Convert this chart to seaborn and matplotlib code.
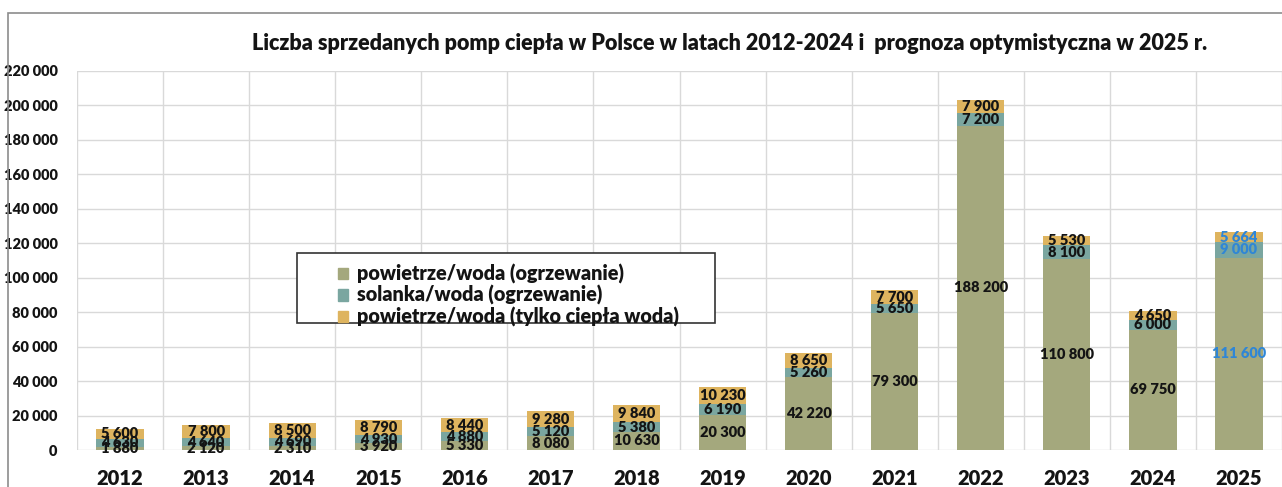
import matplotlib
matplotlib.use('Agg')
import matplotlib.pyplot as plt
import matplotlib.patches as mpatches
from matplotlib.ticker import FuncFormatter, MultipleLocator
import seaborn as sns
import pandas as pd
import numpy as np

# ── Data ────────────────────────────────────────────────
years = ['2012', '2013', '2014', '2015', '2016', '2017', '2018',
         '2019', '2020', '2021', '2022', '2023', '2024', '2025']
air_heating = [1880, 2120, 2310, 3920, 5330, 8080, 10630,
               20300, 42220, 79300, 188200, 110800, 69750, 111600]
brine_heating = [4630, 4640, 4690, 4930, 4880, 5120, 5380,
                 6190, 5260, 5650, 7200, 8100, 6000, 9000]
air_hot_water = [5600, 7800, 8500, 8790, 8440, 9280, 9840,
                 10230, 8650, 7700, 7900, 5530, 4650, 5664]
series_names = ['powietrze/woda (ogrzewanie)',
                'solanka/woda (ogrzewanie)',
                'powietrze/woda (tylko ciepła woda)']

TITLE = ('Liczba sprzedanych pomp ciepła w Polsce w latach 2012-2024 i  '
         'prognoza optymistyczna w 2025 r.')

# ── Style ───────────────────────────────────────────────
OLIVE = '#a4a87d'
TEAL = '#7aa6a0'
GOLD = '#deb45f'
GRID = '#d9d9d9'
FORECAST = '#2f86d6'
INK = '#141414'
W, H = 1282, 487

sns.set_theme(style='white')
plt.rcParams['font.family'] = ['Lato', 'DejaVu Sans']
plt.rcParams['font.weight'] = 'bold'


def fx(x):
    return x / W


def fy(y):
    return 1 - y / H


def thousands(v, _=None):
    return f'{int(v):,}'.replace(',', ' ')


df = pd.DataFrame({'year': years, 'air': air_heating,
                   'brine': brine_heating, 'dhw': air_hot_water})
df['b2'] = df['air'] + df['brine']

fig = plt.figure(figsize=(W / 100, H / 100), dpi=100)
ax = fig.add_axes([fx(77), fy(450), fx(W - 77), fy(71) - fy(450)])

layers = [('air', 0, OLIVE), ('brine', 'air', TEAL), ('dhw', 'b2', GOLD)]
for col, base, color in layers:
    bottom = 0 if base == 0 else df[base].values
    sns.barplot(data=df, x='year', y=col, bottom=bottom, color=color,
                width=0.55, saturation=1, linewidth=0, ax=ax, zorder=3)

# segment labels
for i, yr in enumerate(years):
    tc = FORECAST if yr == '2025' else INK
    base = 0
    for v in (air_heating[i], brine_heating[i], air_hot_water[i]):
        ax.text(i, base + v / 2, thousands(v), ha='center', va='center',
                fontsize=10.5, fontweight='heavy', color=tc, zorder=5)
        base += v

ax.set_xlim(-0.5, 13.37)
ax.set_ylim(0, 220000)
ax.yaxis.set_major_locator(MultipleLocator(20000))
ax.yaxis.set_major_formatter(FuncFormatter(thousands))
ax.set_xticks(np.arange(-0.5, 14, 1), minor=True)
ax.grid(axis='y', which='major', color=GRID, linewidth=1, zorder=0)
ax.grid(axis='x', which='minor', color=GRID, linewidth=1, zorder=0)
ax.set_axisbelow(True)
for s in ax.spines.values():
    s.set_visible(False)
ax.tick_params(axis='y', which='major', length=6, color=GRID, pad=8,
               labelsize=10.5)
ax.tick_params(axis='x', which='major', length=0, pad=14, labelsize=14.5)
ax.tick_params(axis='x', which='minor', length=0)
for t in ax.get_yticklabels() + ax.get_xticklabels():
    t.set_fontweight('heavy')
    t.set_color(INK)
ax.set_xlabel('')
ax.set_ylabel('')

# title
fig.text(fx(730), fy(43), TITLE, ha='center', va='center', fontsize=15.5,
         fontweight='heavy', color=INK)

# outer border
fig.patches.append(mpatches.Rectangle((fx(8), -0.05), 1.2, fy(13) + 0.05,
                                      transform=fig.transFigure, fill=False,
                                      edgecolor='#8c8c8c', linewidth=1.2))

# legend with its own box
fig.patches.append(mpatches.Rectangle((fx(297), fy(323)), fx(715 - 297),
                                      fy(253) - fy(323),
                                      transform=fig.transFigure,
                                      facecolor='white', edgecolor='#333333',
                                      linewidth=1.2, zorder=10))
handles = [mpatches.Patch(color=c, label=n)
           for c, n in zip([OLIVE, TEAL, GOLD], series_names)]
leg = fig.legend(handles=handles, loc='upper left',
                 bbox_to_anchor=(fx(325), fy(251)), frameon=False,
                 fontsize=14.2, handlelength=0.5, handleheight=0.5,
                 handletextpad=0.45, labelspacing=0.08, borderpad=0.15)
leg.set_zorder(11)
for t in leg.get_texts():
    t.set_fontweight('heavy')
    t.set_color(INK)

fig.savefig('out.png', dpi=100)
